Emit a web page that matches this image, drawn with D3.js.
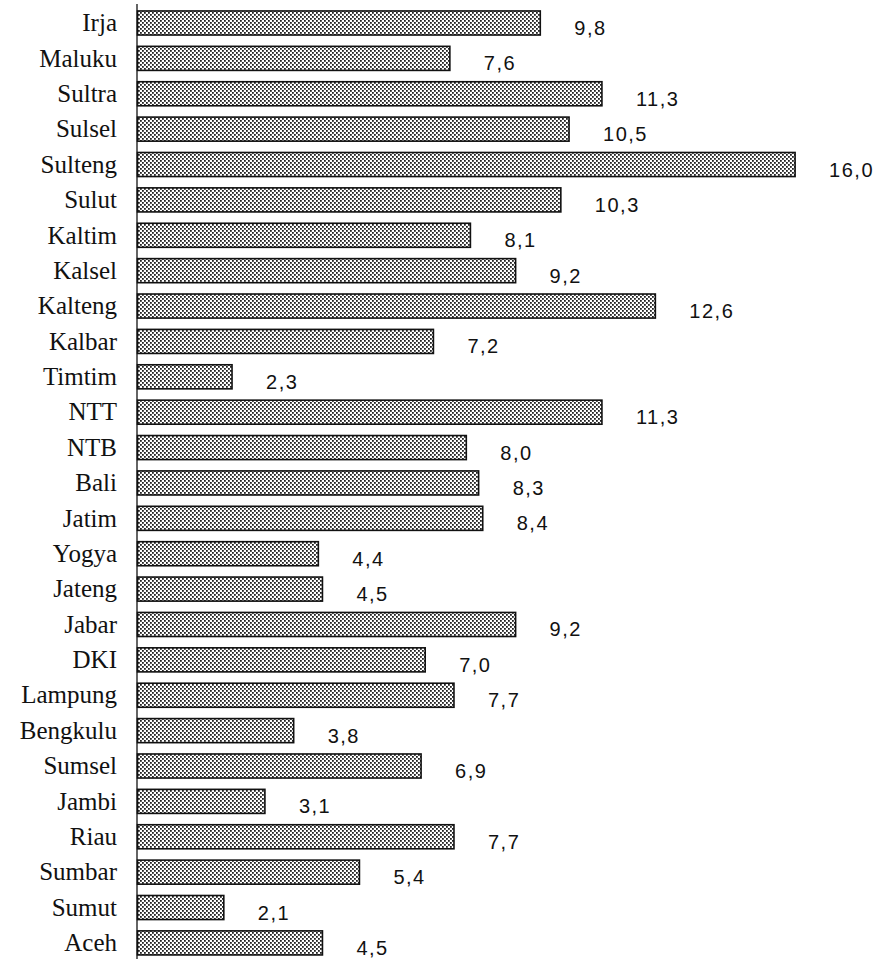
<!DOCTYPE html>
<html><head><meta charset="utf-8">
<script src="https://cdn.jsdelivr.net/npm/d3@7"></script>
<style>body{margin:0;background:#fff}svg{display:block}
.val{font-family:"Liberation Sans",Arial,Arimo,sans-serif;}
</style>
</head><body>
<script>
const categories = ["Irja","Maluku","Sultra","Sulsel","Sulteng","Sulut","Kaltim","Kalsel","Kalteng","Kalbar","Timtim","NTT","NTB","Bali","Jatim","Yogya","Jateng","Jabar","DKI","Lampung","Bengkulu","Sumsel","Jambi","Riau","Sumbar","Sumut","Aceh"];
const values = [9.8,7.6,11.3,10.5,16.0,10.3,8.1,9.2,12.6,7.2,2.3,11.3,8.0,8.3,8.4,4.4,4.5,9.2,7.0,7.7,3.8,6.9,3.1,7.7,5.4,2.1,4.5];
const valueLabels = ["9,8","7,6","11,3","10,5","16,0","10,3","8,1","9,2","12,6","7,2","2,3","11,3","8,0","8,3","8,4","4,4","4,5","9,2","7,0","7,7","3,8","6,9","3,1","7,7","5,4","2,1","4,5"];

// pick an installed serif font
const ctx = document.createElement("canvas").getContext("2d");
function w(f){ ctx.font = "40px " + f; return ctx.measureText("Maluku Bengkulu Lampung Irja").width; }
const baseMono = w("monospace"), baseSans = w("sans-serif");
const cands = ["Liberation Serif","Tinos","Times New Roman","DejaVu Serif","Noto Serif","FreeSerif","Nimbus Roman","Times","serif"];
let serifFont = null;
for (const c of cands) {
  const a = w('"' + c + '", monospace'), b = w('"' + c + '", sans-serif');
  if (Math.abs(a - baseMono) > 0.5 && Math.abs(b - baseSans) > 0.5) { serifFont = c; break; }
}
const catFamily = serifFont ? '"' + serifFont + '", serif' : "serif";

const W = 881, H = 959;
const svg = d3.select("body").append("svg").attr("width", W).attr("height", H);
const defs = svg.append("defs");
const pat = defs.append("pattern").attr("id","dots").attr("patternUnits","userSpaceOnUse").attr("width",4).attr("height",4);
pat.append("rect").attr("width",4).attr("height",4).attr("fill","#fff");
pat.append("rect").attr("x",0).attr("y",0).attr("width",1.8).attr("height",1.8).attr("fill","#222");
pat.append("rect").attr("x",2).attr("y",2).attr("width",1.8).attr("height",1.8).attr("fill","#222");

const x0 = 137.5;
const x = d3.scaleLinear().domain([0, 16]).range([x0, x0 + 16 * 41.1]);
const y = d3.scaleBand().domain(categories).range([5.3, 960.6]).paddingInner(0.32).paddingOuter(0.16);

const data = categories.map((c, i) => ({c, v: values[i], l: valueLabels[i]}));

svg.selectAll("rect.bar").data(data).enter().append("rect")
  .attr("class","bar")
  .attr("x", x(0))
  .attr("y", d => y(d.c))
  .attr("width", d => x(d.v) - x(0))
  .attr("height", y.bandwidth())
  .attr("fill","url(#dots)")
  .attr("stroke","#111")
  .attr("stroke-width",1.6);

svg.append("line").attr("x1", x0 - 0.5).attr("x2", x0 - 0.5).attr("y1", 4).attr("y2", H)
  .attr("stroke","#111").attr("stroke-width",1.3);

svg.selectAll("text.cat").data(data).enter().append("text")
  .attr("class","cat")
  .attr("x", 117)
  .attr("y", d => y(d.c) + y.bandwidth()/2)
  .attr("dy","0.33em")
  .attr("text-anchor","end")
  .style("font-family", catFamily)
  .style("font-size", serifFont ? "25px" : "23px")
  .attr("fill","#111")
  .text(d => d.c);

svg.selectAll("text.val").data(data).enter().append("text")
  .attr("class","val")
  .attr("x", d => x(d.v) + 34)
  .attr("y", d => y(d.c) + y.bandwidth()/2 + 5)
  .attr("dy","0.35em")
  .style("font-size", "20px")
  .attr("letter-spacing", 1.5)
  .attr("fill","#111")
  .text(d => d.l);
</script>
</body></html>
